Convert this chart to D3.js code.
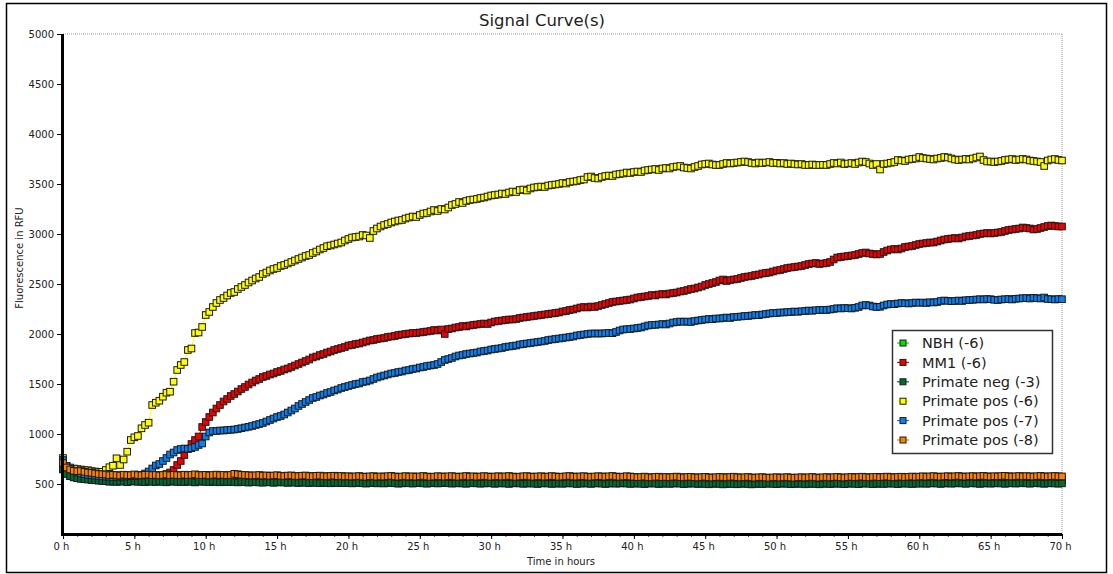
<!DOCTYPE html>
<html>
<head>
<meta charset="utf-8">
<script src="https://cdn.jsdelivr.net/npm/d3@7"></script>
<style>
  body { margin: 0; background: #fff; }
  text { font-family: "DejaVu Sans", Verdana, sans-serif; }
</style>
</head>
<body>
<div id="chart"></div>
<script>
// readings every 15 minutes, 0 h .. 70 h
var hours = d3.range(0, 281).map(i => i * 0.25);

var nbh = [
  672,630,610,598,590,586,582,578,574,570,566,563,
  556,553,557,554,551,556,553,550,555,552,554,550,556,553,551,555,552,549,554,556,
  552,550,554,551,553,557,552,549,553,550,554,552,549,553,551,554,
  556,553,550,552,548,551,553,549,547,551,549,546,550,552,547,545,549,547,544,548,
  546,543,547,545,542,546,544,541,545,543,545,542,
  543,540,542,545,541,538,542,544,539,541,538,541,544,540,537,540,543,540,538,541,
  544,540,537,540,543,539,541,544,540,538,540,542,539,536,540,543,540,537,539,542,
  539,536,539,541,538,535,539,542,539,536,538,540,537,534,538,541,538,535,537,540,
  536,539,541,538,535,537,540,538,535,538,541,537,535,538,540,537,539,541,538,535,
  537,540,536,534,538,540,537,535,536,539,535,538,540,537,534,536,539,537,534,537,
  535,532,535,538,535,531,534,537,535,532,535,537,534,531,534,537,534,536,538,535,
  533,536,538,535,533,534,537,535,532,534,537,535,532,535,537,533,536,538,535,533,
  536,538,535,533,537,539,536,534,535,538,535,537,539,536,534,537,539,536,535,538,
  537,540,536,539,541,538,535,539,540,537,540,542,539,536,540,541,538,535,539,540,
  537,540,542,539,536,540,541,538,540,543,540,537,541,542,539,536,540,541,539,537,
  540
];

var mm1 = [
  650,610,580,570,560,555,550,552,548,550,552,555,555,556,558,557,560,560,562,561,
  563,565,565,566,568,570,572,575,585,600,615,640,690,730,790,850,900,940,975,1070,
  1120,1170,1215,1255,1290,1325,1350,1380,1400,1425,1450,1470,1495,1515,1535,1550,1570,1580,1595,1605,
  1620,1630,1645,1655,1670,1685,1700,1715,1730,1745,1765,1775,1790,1800,1815,1825,1840,1850,1860,1870,
  1885,1890,1900,1905,1915,1925,1935,1940,1950,1955,1960,1970,1975,1980,1990,1995,2000,2005,2010,2010,
  2015,2020,2025,2030,2040,2035,2045,2000,2050,2055,2065,2070,2080,2075,2085,2090,2095,2100,2105,2100,
  2115,2125,2130,2135,2140,2145,2145,2150,2160,2165,2170,2175,2180,2185,2190,2195,2200,2205,2210,2215,
  2225,2230,2240,2245,2255,2265,2270,2265,2275,2270,2280,2290,2300,2310,2320,2325,2330,2335,2340,2345,
  2355,2365,2370,2375,2380,2390,2385,2395,2400,2395,2405,2410,2415,2425,2430,2440,2450,2455,2465,2475,
  2490,2500,2510,2520,2535,2545,2530,2540,2545,2550,2560,2570,2575,2580,2590,2595,2605,2610,2615,2625,
  2635,2640,2650,2660,2665,2670,2675,2680,2690,2700,2705,2710,2700,2705,2710,2720,2745,2765,2770,2775,
  2780,2785,2790,2800,2810,2815,2805,2800,2795,2800,2820,2835,2845,2850,2845,2855,2870,2875,2880,2890,
  2900,2905,2910,2915,2915,2925,2935,2945,2950,2955,2960,2955,2965,2975,2980,2985,2990,3000,3005,3010,
  3005,3010,3015,3020,3030,3040,3045,3050,3055,3065,3060,3055,3045,3050,3060,3070,3080,3085,3080,3075,
  3075
];

var primateNeg = [
  645,600,578,566,558,552,548,544,540,537,533,530,
  528,522,525,520,526,523,519,524,527,521,523,518,525,522,520,526,521,517,523,525,
  520,522,519,524,521,516,522,526,520,518,523,520,517,522,519,521,
  519,516,521,518,514,517,520,515,513,518,516,512,515,519,514,511,516,513,510,515,
  512,509,514,511,508,513,510,507,512,509,511,508,
  510,506,509,512,507,504,508,511,506,509,505,508,512,507,503,506,510,507,504,508,
  511,506,503,507,510,505,508,512,507,504,506,509,505,502,507,510,506,503,505,509,
  506,502,505,508,504,501,506,509,505,502,504,507,503,500,505,508,504,501,503,506,
  502,505,508,504,500,503,507,504,501,505,508,503,500,504,507,503,505,508,504,501,
  503,506,502,499,504,507,503,500,502,505,501,504,507,503,499,502,506,503,500,504,
  500,497,501,504,500,496,499,503,500,497,501,504,499,496,500,503,499,502,505,501,
  498,502,505,501,498,500,504,501,497,500,503,500,497,501,504,499,502,505,501,498,
  502,505,501,498,503,506,502,499,501,504,500,503,506,502,499,503,506,502,500,504,
  503,506,502,505,508,504,501,505,507,503,506,509,505,502,506,508,504,501,505,507,
  503,506,509,505,502,506,508,504,507,510,506,503,507,509,505,502,506,508,505,503,
  506
];

var primatePos6 = [
  760,680,665,655,650,645,640,638,630,625,620,622,640,668,683,757,690,745,823,940,
  967,980,1057,1090,1113,1290,1313,1333,1373,1413,1423,1523,1640,1690,1720,1840,1855,2010,2015,2070,
  2190,2220,2270,2310,2340,2360,2385,2410,2420,2450,2470,2490,2515,2535,2555,2570,2600,2615,2635,2650,
  2660,2680,2690,2705,2720,2735,2750,2765,2780,2790,2810,2825,2845,2860,2878,2885,2895,2905,2915,2935,
  2950,2965,2970,2975,2990,2985,2960,3030,3055,3075,3090,3100,3115,3125,3135,3140,3155,3165,3175,3170,
  3190,3205,3210,3225,3240,3230,3250,3245,3265,3290,3300,3320,3310,3330,3340,3345,3350,3360,3365,3375,
  3385,3390,3395,3405,3400,3415,3425,3420,3440,3445,3435,3455,3465,3470,3475,3470,3485,3490,3495,3500,
  3510,3505,3520,3525,3530,3540,3545,3570,3575,3560,3555,3570,3580,3585,3580,3595,3600,3605,3615,3610,
  3620,3625,3620,3635,3640,3645,3650,3640,3655,3660,3655,3670,3675,3680,3665,3660,3655,3670,3680,3695,
  3700,3705,3695,3690,3690,3700,3710,3705,3710,3715,3720,3725,3720,3710,3705,3715,3710,3715,3720,3710,
  3712,3705,3710,3700,3705,3700,3695,3700,3690,3690,3695,3690,3690,3692,3690,3700,3710,3705,3715,3700,
  3705,3710,3700,3715,3725,3720,3705,3690,3700,3645,3700,3705,3712,3720,3740,3735,3730,3745,3750,3755,
  3770,3760,3755,3750,3745,3755,3760,3770,3765,3755,3745,3740,3745,3750,3745,3755,3765,3775,3740,3725,
  3725,3720,3725,3730,3740,3745,3750,3740,3745,3750,3745,3735,3730,3725,3720,3680,3735,3745,3750,3740,
  3735
];

var primatePos7 = [
  740,680,650,630,615,605,598,592,588,584,580,576,574,572,570,572,575,574,576,578,
  580,584,590,605,625,655,685,700,730,760,795,815,840,850,855,852,858,870,890,905,
  975,1015,1030,1030,1035,1035,1040,1042,1045,1050,1058,1065,1072,1080,1090,1100,1110,1125,1140,1155,
  1170,1180,1195,1215,1235,1255,1280,1300,1320,1340,1360,1370,1385,1395,1410,1420,1435,1445,1460,1470,
  1480,1490,1500,1505,1520,1525,1535,1550,1565,1575,1585,1595,1605,1610,1620,1625,1635,1640,1650,1655,
  1665,1670,1680,1685,1690,1700,1720,1740,1750,1760,1775,1785,1790,1800,1805,1810,1815,1825,1830,1835,
  1845,1850,1855,1860,1870,1875,1880,1885,1895,1900,1905,1910,1915,1920,1925,1930,1940,1945,1950,1955,
  1960,1965,1970,1975,1985,1990,1995,2000,2005,2005,2005,2005,2008,2010,2008,2020,2035,2045,2048,2050,
  2055,2060,2065,2075,2085,2090,2092,2095,2100,2095,2105,2115,2120,2125,2122,2125,2120,2130,2135,2140,
  2145,2150,2148,2155,2155,2160,2165,2160,2170,2172,2175,2180,2180,2185,2190,2188,2195,2200,2205,2210,
  2210,2215,2215,2220,2220,2225,2222,2228,2230,2235,2232,2238,2240,2242,2240,2245,2250,2258,2255,2260,
  2258,2255,2262,2270,2285,2290,2285,2275,2270,2272,2285,2295,2300,2298,2305,2310,2308,2305,2310,2315,
  2312,2315,2310,2318,2315,2320,2330,2335,2332,2328,2330,2335,2330,2338,2340,2342,2345,2348,2345,2350,
  2348,2342,2340,2345,2348,2350,2345,2352,2355,2358,2360,2355,2362,2358,2355,2365,2350,2348,2345,2350,
  2348
];

var primatePos8 = [
  710,665,645,632,628,630,622,615,612,606,600,598,
  595,588,592,590,585,593,590,588,596,590,587,592,594,589,591,586,590,595,588,592,
  590,587,593,589,591,597,590,588,592,586,590,594,589,591,587,590,
  602,598,592,590,588,585,587,590,584,586,582,585,588,583,580,584,586,581,579,583,
  585,580,578,582,584,579,577,581,583,578,580,576,
  578,574,576,580,575,572,577,579,573,576,574,578,581,576,572,575,579,574,577,573,
  576,580,575,571,574,578,576,573,577,579,575,572,576,580,574,577,573,575,579,576,
  572,575,578,574,576,580,575,571,574,577,579,575,572,576,578,573,575,579,576,572,
  574,577,580,575,573,576,578,574,571,575,578,576,573,577,580,575,572,574,578,575,
  572,568,570,574,569,566,571,573,568,570,567,571,574,569,566,570,572,568,565,569,
  572,567,564,568,571,569,566,570,573,568,565,567,570,566,563,567,569,565,562,566,
  568,564,566,569,565,562,566,568,564,567,570,566,563,567,569,565,568,571,567,564,
  568,571,567,570,573,569,566,570,572,568,571,574,570,567,571,573,569,572,575,571,
  574,577,573,576,579,575,572,576,578,574,577,580,576,573,577,579,575,578,581,577,
  574,578,576,579,582,578,575,577,580,576,579,577,574,578,581,577,575,578,580,577,
  576
];

var seriesNames = ["NBH (-6)", "MM1 (-6)", "Primate neg (-3)", "Primate pos (-6)", "Primate pos (-7)", "Primate pos (-8)"];
var seriesValues = [nbh, mm1, primateNeg, primatePos6, primatePos7, primatePos8];
var seriesColors = ["#00e000", "#f00000", "#006b33", "#ffff00", "#0a80f0", "#ff8000"];
var xTicks = d3.range(0, 71, 5);
var yTicks = d3.range(500, 5001, 500);

var svgWidth = 1113;
var svgHeight = 574;
var margin = {top: 34, right: 51, bottom: 40, left: 63};
var width = svgWidth - margin.left - margin.right;
var height = svgHeight - margin.top - margin.bottom;

var svg = d3.select("#chart")
  .append("svg")
    .attr("width", svgWidth)
    .attr("height", svgHeight);

svg.append("rect")
  .attr("width", svgWidth)
  .attr("height", svgHeight)
  .attr("fill", "#fff");

// outer frame
svg.append("rect")
  .attr("x", 6.5)
  .attr("y", 3.5)
  .attr("width", 1100)
  .attr("height", 569)
  .attr("fill", "none")
  .attr("stroke", "#000")
  .attr("stroke-width", 1.5);

svg.append("text")
  .attr("x", 542)
  .attr("y", 26)
  .attr("text-anchor", "middle")
  .attr("font-size", "16.5px")
  .attr("fill", "#222")
  .text("Signal Curve(s)");

var chartGroup = svg.append("g")
  .attr("transform", `translate(${margin.left}, ${margin.top})`);

var xScale = d3.scaleLinear()
  .domain([0, 70])
  .range([0, width]);
var yScale = d3.scaleLinear()
  .domain([0, 5000])
  .range([height, 0]);

// dotted frame lines at top and right
chartGroup.append("line")
  .attr("x1", 0).attr("x2", width)
  .attr("y1", yScale(5000)).attr("y2", yScale(5000))
  .attr("stroke", "#999")
  .attr("stroke-dasharray", "1,1");
chartGroup.append("line")
  .attr("x1", xScale(70)).attr("x2", xScale(70))
  .attr("y1", 0).attr("y2", height)
  .attr("stroke", "#999")
  .attr("stroke-dasharray", "1,1");

// minor ticks
chartGroup.append("g")
  .call(d3.axisLeft(yScale).tickValues(d3.range(0, 5001, 100)).tickSize(2).tickFormat(""))
  .call(g => g.select(".domain").remove())
  .selectAll("line").attr("stroke", "#888");
chartGroup.append("g")
  .attr("transform", `translate(0, ${height})`)
  .call(d3.axisBottom(xScale).tickValues(d3.range(0, 71, 1)).tickSize(3).tickFormat(""))
  .call(g => g.select(".domain").remove())
  .selectAll("line").attr("stroke", "#555");

var leftAxis = chartGroup.append("g")
  .call(d3.axisLeft(yScale).tickValues(yTicks).tickSize(6).tickPadding(3).tickFormat(d3.format("d")));
leftAxis.select(".domain").remove();
leftAxis.selectAll("text").attr("font-size", "10px").attr("fill", "#222").attr("font-family", "DejaVu Sans, Verdana, sans-serif");

var bottomAxis = chartGroup.append("g")
  .attr("transform", `translate(0, ${height})`)
  .call(d3.axisBottom(xScale).tickValues(xTicks).tickSize(5).tickPadding(4).tickFormat(d => d + " h"));
bottomAxis.select(".domain").remove();
bottomAxis.selectAll("text").attr("font-size", "10px").attr("fill", "#222").attr("dx", "-2").attr("font-family", "DejaVu Sans, Verdana, sans-serif");

// series
var line = d3.line()
  .x((d, i) => xScale(hours[i]))
  .y(d => yScale(d));

seriesValues.forEach((values, k) => {
  var g = chartGroup.append("g");
  g.append("path")
    .attr("d", line(values))
    .attr("fill", "none")
    .attr("stroke", seriesColors[k])
    .attr("stroke-width", 1);
  g.selectAll("rect")
    .data(values)
    .enter()
    .append("rect")
      .attr("x", (d, i) => xScale(hours[i]) - 3.3)
      .attr("y", d => yScale(d) - 3.3)
      .attr("width", 6.6)
      .attr("height", 6.6)
      .attr("fill", seriesColors[k])
      .attr("stroke", "#1a1a1a")
      .attr("stroke-width", 1);
});

// thick axis lines
chartGroup.append("line")
  .attr("x1", -0.5).attr("x2", -0.5)
  .attr("y1", 0).attr("y2", height + 1.5)
  .attr("stroke", "#000")
  .attr("stroke-width", 3);
chartGroup.append("line")
  .attr("x1", -2).attr("x2", width)
  .attr("y1", height + 0.5).attr("y2", height + 0.5)
  .attr("stroke", "#000")
  .attr("stroke-width", 3);

// axis titles
svg.append("text")
  .attr("transform", "translate(23, 258) rotate(-90)")
  .attr("text-anchor", "middle")
  .attr("font-size", "10px")
  .attr("fill", "#222")
  .text("Fluorescence in RFU");
svg.append("text")
  .attr("x", 561)
  .attr("y", 565)
  .attr("text-anchor", "middle")
  .attr("font-size", "10px")
  .attr("fill", "#222")
  .text("Time in hours");

// legend
var legend = svg.append("g")
  .attr("transform", "translate(892, 330)");
legend.append("rect")
  .attr("x", 0.5)
  .attr("y", 0.5)
  .attr("width", 160)
  .attr("height", 123)
  .attr("fill", "#fff")
  .attr("stroke", "#333")
  .attr("stroke-width", 1.5);
var rows = legend.selectAll(".row")
  .data(seriesNames)
  .enter()
  .append("g")
    .attr("class", "row")
    .attr("transform", (d, i) => `translate(0, ${13 + i * 19.4})`);
rows.append("line")
  .attr("x1", 5).attr("x2", 17)
  .attr("stroke", (d, i) => seriesColors[i])
  .attr("stroke-width", 1.2);
rows.append("rect")
  .attr("x", 8).attr("y", -3)
  .attr("width", 6).attr("height", 6)
  .attr("fill", (d, i) => seriesColors[i])
  .attr("stroke", "#1a1a1a")
  .attr("stroke-width", 1);
rows.append("text")
  .attr("x", 30)
  .attr("y", 0)
  .attr("dy", "0.36em")
  .attr("font-size", "14.5px")
  .attr("fill", "#222")
  .text(d => d);
</script>
</body>
</html>
